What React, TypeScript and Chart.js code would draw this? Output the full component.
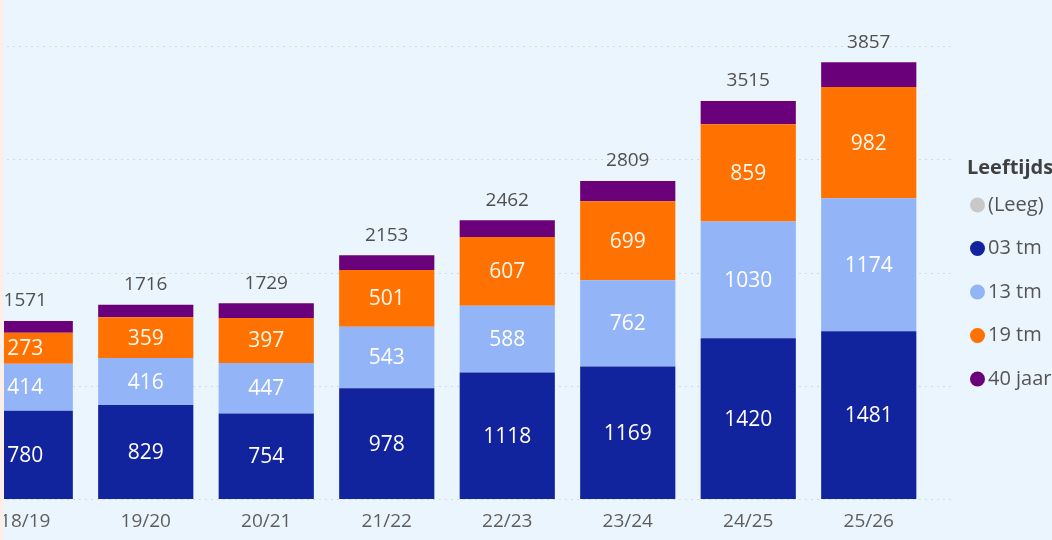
import React, { useEffect, useRef } from "react";
import { Chart, registerables } from "chart.js";

Chart.register(...registerables);

const categories = ["18/19", "19/20", "20/21", "21/22", "22/23", "23/24", "24/25", "25/26"];
const age03 = [780, 829, 754, 978, 1118, 1169, 1420, 1481];
const age13 = [414, 416, 447, 543, 588, 762, 1030, 1174];
const age19 = [273, 359, 397, 501, 607, 699, 859, 982];
const age40 = [104, 112, 131, 131, 149, 179, 206, 220];
const totals = [1571, 1716, 1729, 2153, 2462, 2809, 3515, 3857];
const gridValues = [0, 1000, 2000, 3000, 4000];
const legendTitle = "Leeftijdscategorie";
const legendNames = ["(Leeg)", "03 tm", "13 tm", "19 tm", "40 jaar"];
const legendColors = ["#c8c8c8", "#12239E", "#93B4F7", "#FF7100", "#6B007B"];

const OFF = 60; // canvas starts 60px left of the visible page
const CW = 1262;
const CH = 540;
const FONT = "'Open Sans', 'Noto Sans', sans-serif";

export default function App() {
  const ref = useRef<HTMLCanvasElement | null>(null);

  useEffect(() => {
    const canvas = ref.current;
    if (!canvas) return;

    const gridPlugin = {
      id: "pbiGrid",
      beforeDatasetsDraw(chart: any) {
        const { ctx, chartArea, scales } = chart;
        ctx.save();
        ctx.strokeStyle = "#d3d9df";
        ctx.lineWidth = 1;
        ctx.setLineDash([2, 4]);
        gridValues.forEach((v) => {
          const y = Math.round(scales.y.getPixelForValue(v)) + 0.5;
          ctx.beginPath();
          ctx.moveTo(chartArea.left, y);
          ctx.lineTo(OFF + 955, y);
          ctx.stroke();
        });
        ctx.restore();
      },
    };

    const labelPlugin = {
      id: "pbiLabels",
      afterDatasetsDraw(chart: any) {
        const { ctx } = chart;
        ctx.save();
        ctx.textAlign = "center";
        ctx.textBaseline = "middle";
        ctx.font = `21px ${FONT}`;
        [0, 1, 2].forEach((di) => {
          const meta = chart.getDatasetMeta(di);
          const ds = chart.data.datasets[di];
          meta.data.forEach((el: any, i: number) => {
            ctx.fillStyle = di === 2 ? "#fff8ec" : "#ffffff";
            ctx.fillText(String(ds.data[i]), el.x, (el.y + el.base) / 2 + 1);
          });
        });
        const top = chart.getDatasetMeta(3);
        ctx.font = `19px ${FONT}`;
        ctx.fillStyle = "#505050";
        top.data.forEach((el: any, i: number) => {
          ctx.fillText(String(totals[i]), el.x, el.y - 20);
        });
        ctx.restore();
      },
      afterDraw(chart: any) {
        const { ctx } = chart;
        ctx.save();
        ctx.textBaseline = "middle";
        ctx.textAlign = "left";
        ctx.font = `bold 20px ${FONT}`;
        ctx.fillStyle = "#404040";
        ctx.fillText(legendTitle, OFF + 967, 168);
        ctx.font = `20px ${FONT}`;
        legendNames.forEach((name, i) => {
          const y = 205 + i * 43.5;
          ctx.beginPath();
          ctx.fillStyle = legendColors[i];
          ctx.arc(OFF + 977.5, y, 7.5, 0, Math.PI * 2);
          ctx.fill();
          ctx.fillStyle = "#555555";
          ctx.fillText(name, OFF + 988, y);
        });
        ctx.restore();
      },
    };

    const chart = new Chart(canvas, {
      type: "bar",
      data: {
        labels: categories,
        datasets: [
          { label: legendNames[1], data: age03, backgroundColor: legendColors[1] },
          { label: legendNames[2], data: age13, backgroundColor: legendColors[2] },
          { label: legendNames[3], data: age19, backgroundColor: legendColors[3] },
          { label: legendNames[4], data: age40, backgroundColor: legendColors[4] },
        ],
      },
      options: {
        responsive: false,
        animation: false,
        events: [],
        datasets: {
          bar: { categoryPercentage: 1, barPercentage: 0.79, borderWidth: 0 },
        },
        layout: { padding: { left: 25, right: CW - (OFF + 929), top: 46, bottom: 0 } },
        plugins: { legend: { display: false }, tooltip: { enabled: false } },
        scales: {
          x: {
            stacked: true,
            grid: { display: false, drawTicks: false },
            border: { display: false },
            ticks: { color: "#605e5c", font: { family: FONT, size: 19 }, padding: 11, maxRotation: 0 },
            afterFit: (s: any) => {
              s.height = 41;
            },
          },
          y: {
            stacked: true,
            display: false,
            min: 0,
            max: 4000,
          },
        },
      },
      plugins: [gridPlugin, labelPlugin],
    });

    return () => chart.destroy();
  }, []);

  return (
    <div
      style={{
        position: "fixed",
        left: 0,
        top: 0,
        width: 1052,
        height: 540,
        overflow: "hidden",
        background: "#eaf5fd",
      }}
    >
      <canvas
        ref={ref}
        width={CW}
        height={CH}
        style={{ position: "absolute", left: -OFF, top: 0, width: CW, height: CH }}
      />
      <div style={{ position: "absolute", left: 0, top: 0, width: 4, height: 540, background: "#fcefea" }} />
    </div>
  );
}
